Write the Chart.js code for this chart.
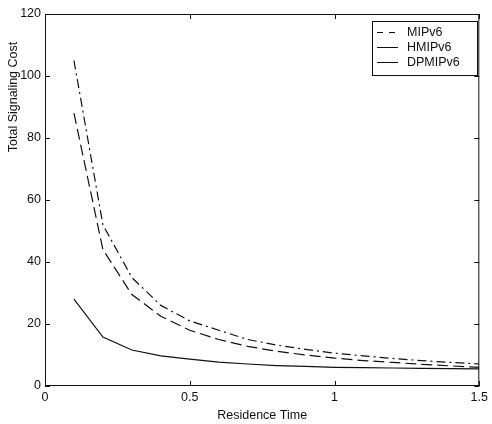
<!DOCTYPE html>
<html>
<head>
<meta charset="utf-8">
<script src="https://cdn.jsdelivr.net/npm/chart.js@4/dist/chart.umd.min.js"></script>
<style>
  html, body { margin: 0; padding: 0; background: #fff; }
  #wrap { width: 492px; height: 424px; }
</style>
</head>
<body>
<div id="wrap"><canvas id="myChart" width="492" height="424"></canvas></div>
<script>
// residence time samples
const residence = [0.1, 0.2, 0.3, 0.4, 0.5, 0.6, 0.7, 0.8, 0.9, 1.0, 1.1, 1.2, 1.3, 1.4, 1.5];
// total signaling cost per scheme
const mipv6 = [105, 52, 35, 26, 21, 18, 15, 13.2, 11.8, 10.6, 9.7, 8.9, 8.2, 7.6, 7.1];
const hmipv6 = [88, 44, 29.5, 22.5, 18, 15, 12.8, 11.2, 10, 9, 8.2, 7.6, 7, 6.5, 6];
const dpmipv6 = [28, 15.8, 11.6, 9.7, 8.7, 7.7, 7.1, 6.6, 6.3, 6, 5.9, 5.8, 5.7, 5.6, 5.5];
const xTicks = [0, 0.5, 1, 1.5];
const yTicks = [0, 20, 40, 60, 80, 100, 120];

const ink = '#111';
const fontFam = '"Liberation Sans", Arial, sans-serif';

const toPoints = (vals) => residence.map((x, i) => ({ x: x, y: vals[i] }));

// matlab style box with inward ticks on all four sides
const boxTicks = {
    id: 'boxTicks',
    afterDraw(chart) {
        const { ctx, chartArea: a, scales } = chart;
        ctx.save();
        ctx.strokeStyle = ink;
        ctx.lineWidth = 1;
        ctx.strokeRect(a.left + 0.5, a.top + 0.5, a.right - a.left - 1, a.bottom - a.top - 1);
        ctx.beginPath();
        xTicks.forEach(v => {
            const px = Math.round(scales.x.getPixelForValue(v)) + 0.5;
            ctx.moveTo(px, a.bottom); ctx.lineTo(px, a.bottom - 5);
            ctx.moveTo(px, a.top); ctx.lineTo(px, a.top + 5);
        });
        yTicks.forEach(v => {
            const py = Math.round(scales.y.getPixelForValue(v)) + 0.5;
            ctx.moveTo(a.left, py); ctx.lineTo(a.left + 5, py);
            ctx.moveTo(a.right, py); ctx.lineTo(a.right - 5, py);
        });
        ctx.stroke();

        // y title, sits high on the axis like the scan
        ctx.font = '12.5px ' + fontFam;
        ctx.fillStyle = ink;
        ctx.textAlign = 'center';
        ctx.textBaseline = 'middle';
        ctx.translate(14, 97);
        ctx.rotate(-Math.PI / 2);
        ctx.fillText('Total Signaling Cost', 0, 0);
        ctx.restore();
    }
};

// legend box in the upper right corner
const boxLegend = {
    id: 'boxLegend',
    afterDraw(chart) {
        const { ctx } = chart;
        const left = 372, top = 21, w = 105, h = 54;
        ctx.save();
        ctx.fillStyle = '#fff';
        ctx.fillRect(left, top, w, h);
        ctx.strokeStyle = ink;
        ctx.lineWidth = 1;
        ctx.strokeRect(left + 0.5, top + 0.5, w, h);
        ctx.font = '12.5px ' + fontFam;
        ctx.textBaseline = 'middle';
        ctx.fillStyle = ink;
        chart.data.datasets.forEach((ds, i) => {
            const y = top + 11.5 + i * 15;
            ctx.setLineDash(ds.legendDash || []);
            ctx.beginPath();
            ctx.moveTo(left + 5, y);
            ctx.lineTo(left + 26, y);
            ctx.stroke();
            ctx.fillText(ds.label, left + 35, y);
        });
        ctx.restore();
    }
};

const ctx = document.getElementById('myChart').getContext('2d');
const chart = new Chart(ctx, {
    type: 'line',
    data: {
        datasets: [{
            label: 'MIPv6',
            data: toPoints(mipv6),
            borderColor: ink,
            borderWidth: 1.2,
            borderDash: [9, 4, 2, 4],
            legendDash: [6, 6]
        },
        {
            label: 'HMIPv6',
            data: toPoints(hmipv6),
            borderColor: ink,
            borderWidth: 1.2,
            borderDash: [11, 5],
            legendDash: [21, 2]
        },
        {
            label: 'DPMIPv6',
            data: toPoints(dpmipv6),
            borderColor: ink,
            borderWidth: 1.2,
            legendDash: []
        }]
    },
    options: {
        responsive: false,
        animation: false,
        layout: { padding: { left: 0, top: 14, right: 8, bottom: 0 } },
        elements: { point: { radius: 0 }, line: { tension: 0 } },
        plugins: {
            legend: { display: false },
            tooltip: { enabled: false }
        },
        scales: {
            x: {
                type: 'linear',
                min: 0,
                max: 1.5,
                afterBuildTicks: (s) => { s.ticks = xTicks.map(v => ({ value: v })); },
                afterFit: (s) => { s.height = 38; },
                grid: { display: false, drawTicks: false },
                border: { display: false },
                ticks: {
                    color: ink,
                    padding: 4,
                    font: { family: fontFam, size: 12.5 },
                    maxRotation: 0,
                    callback: (v) => String(v)
                },
                title: {
                    display: true,
                    text: 'Residence Time',
                    color: ink,
                    font: { family: fontFam, size: 12.5 },
                    padding: { top: 0, bottom: 1 }
                }
            },
            y: {
                min: 0,
                max: 120,
                afterBuildTicks: (s) => { s.ticks = yTicks.map(v => ({ value: v })); },
                afterFit: (s) => { s.width = 45; },
                grid: { display: false, drawTicks: false },
                border: { display: false },
                ticks: {
                    color: ink,
                    padding: 4,
                    font: { family: fontFam, size: 12.5 }
                }
            }
        }
    },
    plugins: [boxTicks, boxLegend]
});
</script>
</body>
</html>
